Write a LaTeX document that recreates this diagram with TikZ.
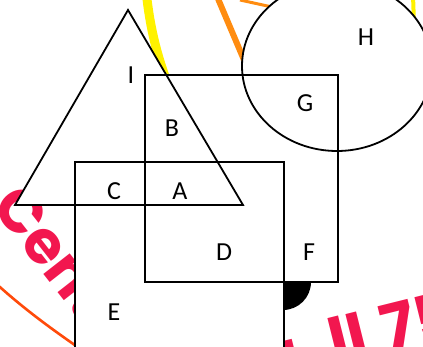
\documentclass[tikz,border=0pt]{standalone}
\usepackage{fontspec}
\setmainfont{Carlito}
\newfontfamily\logofont{Poppins}
\usetikzlibrary{positioning}
\definecolor{logored}{HTML}{F2174F}
\definecolor{logoorange}{HTML}{FF4A0A}
\definecolor{logoamber}{HTML}{FF8C10}
\definecolor{logoyellow}{HTML}{FFF200}

\begin{document}
\begin{tikzpicture}[
			x=1pt, y=-1pt,
			region/.style={fill=white},
			outline/.style={draw=black, line width=1.8pt},
			lbl/.style={font=\fontsize{26}{30}\selectfont, inner sep=0pt},
			logotext/.style={text=logored, font=\logofont\bfseries\fontsize{60}{60}\selectfont, inner sep=0pt}
			]

			\useasboundingbox (0,0) rectangle (423,347);

			% logo showing through behind the sets
			\begin{scope}
				\clip (0,0) rectangle (423,347);
				\draw[logoyellow, line width=9pt] (146,-10) .. controls (150,30) and (158,60) .. (172,95);
				\draw[logoyellow, line width=4pt] (413,-5) -- (414,24);
				\draw[logoamber, line width=6pt] (216,-6) -- (244,60);
				\draw[logoamber, line width=3pt] (240,0) -- (272,7);
				\draw[logoorange, line width=2.6pt] (-10,278) .. controls (20,306) and (50,328) .. (82,350);
				\fill[black] (283,282) circle (28);
				\node[logotext, rotate=-52, anchor=base west] (cen) at (-10,206) {Centre};
				\node[logotext, rotate=14, anchor=base west, font=\logofont\bfseries\fontsize{64}{64}\selectfont] (hall) at (262,384) {a\kern32pt ll\kern16pt 75};
			\end{scope}

			% white regions first, outlines on top
			\coordinate (apex) at (128,10);
			\coordinate (baseL) at (15,205);
			\coordinate (baseR) at (243,205);
			\coordinate (sqa1) at (145,75);
			\coordinate (sqa2) at (338,282);
			\coordinate (sqb1) at (75,162);
			\coordinate (sqb2) at (284,360);
			\coordinate (hc) at (337,66);

			\fill[region] (hc) ellipse [x radius=95, y radius=85];
			\fill[region] (sqb1) rectangle (sqb2);
			\fill[region] (sqa1) rectangle (sqa2);
			\fill[region] (apex) -- (baseL) -- (baseR) -- cycle;

			\draw[outline] (hc) ellipse [x radius=95, y radius=85];
			\draw[outline] (sqb1) rectangle (sqb2);
			\draw[outline] (sqa1) rectangle (sqa2);
			\draw[outline, line join=miter] (apex) -- (baseL) -- (baseR) -- cycle;

			\foreach \n/\x/\y in {A/180/191, B/172/128, C/114/191, D/224/252, E/114/312, F/309/252, G/305/103, H/366/37, I/131/75} {
				\node[lbl] (\n) at (\x,\y) {\n};
			}

		\end{tikzpicture}
\end{document}
